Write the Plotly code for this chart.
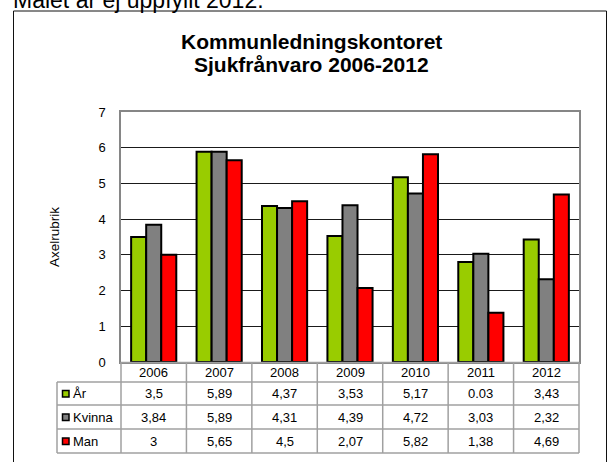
import plotly.graph_objects as go

years = ["2006", "2007", "2008", "2009", "2010", "2011", "2012"]
series_names = ["År", "Kvinna", "Man"]
ar_values = [3.5, 5.89, 4.37, 3.53, 5.17, 2.8, 3.43]
kvinna_values = [3.84, 5.89, 4.31, 4.39, 4.72, 3.03, 2.32]
man_values = [3.0, 5.65, 4.5, 2.07, 5.82, 1.38, 4.69]
ar_labels = ["3,5", "5,89", "4,37", "3,53", "5,17", "0.03", "3,43"]
kvinna_labels = ["3,84", "5,89", "4,31", "4,39", "4,72", "3,03", "2,32"]
man_labels = ["3", "5,65", "4,5", "2,07", "5,82", "1,38", "4,69"]
y_ticks = [0, 1, 2, 3, 4, 5, 6, 7]

title_line1 = "Kommunledningskontoret"
title_line2 = "Sjukfrånvaro 2006-2012"
top_text = "Målet är ej uppfyllt 2012."
y_title = "Axelrubrik"

colors = ["#99CC00", "#808080", "#FF0000"]
FONT = "Arial, Liberation Sans, sans-serif"

W, H = 609, 462
L, R, T, B = 121, 579, 112, 362


def px(xp):
    return (xp - L) / (R - L)


def py(yp):
    return (B - yp) / (B - T)


fig = go.Figure()
for name, vals, col in zip(series_names, [ar_values, kvinna_values, man_values], colors):
    fig.add_trace(go.Bar(x=years, y=vals, name=name,
                         marker=dict(color=col, line=dict(color="black", width=2))))

shapes = []
annotations = []


def note(x, y, text, size=13, xref="paper", xanchor="center", **kw):
    annotations.append(dict(x=x, xref=xref, y=y, yref="paper", text=text,
                            showarrow=False, xanchor=xanchor, yanchor="middle",
                            font=dict(family=FONT, size=size, color="black"), **kw))


# outer chart box
shapes.append(dict(type="rect", xref="paper", yref="paper",
                   x0=px(13.5), x1=px(606.5), y0=py(480), y1=py(11),
                   line=dict(color="#111", width=1)))

# table lines
tcol = "#A0A0A0"
row_lines = [382, 405, 429, 453]
for yl in row_lines:
    shapes.append(dict(type="line", xref="paper", yref="paper",
                       x0=px(57), x1=1, y0=py(yl), y1=py(yl),
                       line=dict(color=tcol, width=1.5)))
shapes.append(dict(type="line", xref="paper", yref="paper",
                   x0=0, x1=1, y0=py(362.5), y1=py(362.5),
                   line=dict(color=tcol, width=1.5)))
shapes.append(dict(type="line", xref="paper", yref="paper",
                   x0=px(57), x1=px(57), y0=py(382), y1=py(453),
                   line=dict(color=tcol, width=1.5)))
n = len(years)
for i in range(n + 1):
    xp = i / n
    shapes.append(dict(type="line", xref="paper", yref="paper",
                       x0=xp, x1=xp, y0=py(362), y1=py(453),
                       line=dict(color=tcol, width=1.5)))

# header row years (category index positions)
for i, yr in enumerate(years):
    note(i, py(372.5), yr, xref="x")

row_centers = [393.5, 417, 441]
for name, labels, col, yc in zip(series_names, [ar_labels, kvinna_labels, man_labels], colors, row_centers):
    for i, lab in enumerate(labels):
        note(i, py(yc), lab, xref="x")
    note(px(70.5), py(yc), name, xanchor="left")
    shapes.append(dict(type="rect", xref="paper", yref="paper",
                       x0=px(62.5), x1=px(69), y0=py(yc + 3.5), y1=py(yc - 3),
                       fillcolor=col, line=dict(color="black", width=1.5)))

# titles
note(px(311), py(41.5), "<b>" + title_line1 + "</b>", size=21)
note(px(311), py(64.5), "<b>" + title_line2 + "</b>", size=21)
note(px(11), py(0), top_text, size=23, xanchor="left")
note(px(54), py(237), y_title, size=13.5, textangle=-90)

fig.update_layout(
    width=W, height=H,
    margin=dict(l=L, r=W - R, t=T, b=H - B, pad=0),
    paper_bgcolor="white", plot_bgcolor="white",
    barmode="group", bargap=0.31, bargroupgap=0,
    showlegend=False,
    font=dict(family=FONT, size=13, color="black"),
    shapes=shapes, annotations=annotations,
    xaxis=dict(type="category", range=[-0.5, n - 0.5], showticklabels=False,
               showgrid=False, zeroline=False,
               showline=True, linecolor="#868686", linewidth=1.5, mirror=True,
               ticks=""),
    yaxis=dict(range=[0, 7], tickvals=y_ticks, showgrid=True, gridcolor="#1a1a1a",
               gridwidth=1, zeroline=False, showline=True, linecolor="#868686",
               linewidth=1.5, mirror=True, ticks="", ticklabelstandoff=11,
               tickfont=dict(family=FONT, size=13, color="black")),
)

fig.write_html("out.html", config={"displayModeBar": False},
               post_script="document.body.style.margin='0px';document.body.style.overflow='hidden';")
